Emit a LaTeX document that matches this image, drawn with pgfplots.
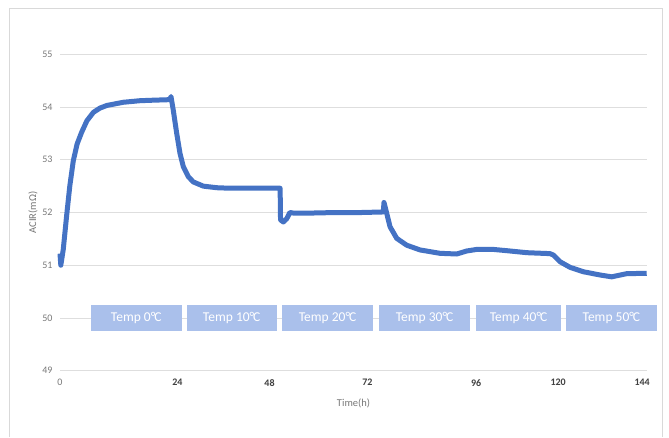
\documentclass[border=0pt]{standalone}
\usepackage{fontspec}
\setmainfont{Carlito}
\usepackage{pgfplots}
\pgfplotsset{compat=1.18}
\definecolor{lineblue}{RGB}{68,114,196}
\definecolor{boxblue}{RGB}{170,192,235}
\definecolor{gridgrey}{RGB}{222,222,222}
\definecolor{tickgrey}{RGB}{120,120,120}
\definecolor{darktick}{RGB}{64,64,64}
\definecolor{framegrey}{RGB}{217,217,217}
\begin{document}
\begin{tikzpicture}[x=1pt,y=1pt]
\useasboundingbox (0,0) rectangle (669,437);
\fill[white] (0,0) rectangle (669,437);
\draw[framegrey,line width=0.8pt] (9,0) -- (9,429) -- (662,429) -- (662,0);
\begin{axis}[
  at={(60pt,66.3pt)}, anchor=south west,
  scale only axis, width=587pt, height=316.4pt,
  xmin=0, xmax=144, ymin=49, ymax=55,
  clip=false,
  axis line style={draw=none},
  major tick length=0pt,
  ytick={49,50,51,52,53,54,55},
  ymajorgrids, grid style={gridgrey, line width=0.8pt},
  xtick={0,28.8,51.4,75.4,102.1,122.2,142.8},
  xticklabels={\textcolor{tickgrey}{0},\textbf{24},\textbf{48},\textbf{72},\textbf{96},\textbf{120},\textbf{144}},
  ticklabel style={font=\fontsize{10}{12}\selectfont},
  /pgf/number format/assume math mode=true,
  yticklabel style={text=tickgrey, xshift=-4pt},
  xticklabel style={text=darktick, yshift=-5pt},
  xlabel={Time(h)}, ylabel={ACIR(mΩ)},
  label style={font=\fontsize{10.5}{12}\selectfont, text=tickgrey},
  xlabel style={yshift=-6pt},
  ylabel style={yshift=-2pt},
]
\addplot[lineblue, line width=5pt, line join=round] coordinates {
(0,51.22)(0.2,51.0)(0.8,51.3)(1.64,51.95)(2.4,52.5)(3.26,52.98)(4.2,53.3)(5.3,53.52)(6.6,53.74)(8.2,53.9)(9.8,53.98)(11.5,54.03)(15.5,54.09)(19.6,54.12)(23,54.13)(27.0,54.14)
(27.23,54.2)(27.79,53.94)(28.63,53.50)(29.44,53.12)(30.25,52.87)(31.47,52.68)(32.7,52.58)(35.15,52.50)(38.44,52.47)(41.71,52.46)(46.6,52.46)(54.0,52.46)
(54.1,51.86)(54.8,51.82)(55.6,51.88)(56.4,52.0)(57.2,51.99)(62,51.99)(68,52.0)(74,52.0)(79.3,52.01)
(79.48,52.19)(80.15,51.985)(80.96,51.73)(82.6,51.51)(85.05,51.38)(88.32,51.29)(93.22,51.226)(97.32,51.213)(99.77,51.27)(102.22,51.30)(106.3,51.30)(110.39,51.27)(114.49,51.238)(120.2,51.22)(121.01,51.194)(122.66,51.067)(125.1,50.961)(128.37,50.877)(132.47,50.815)(135.34,50.78)(139.02,50.84)(143.93,50.847)
};
\fill[boxblue] (axis cs:7.53,49.753) rectangle (axis cs:29.85,50.246);
\fill[boxblue] (axis cs:31.08,49.753) rectangle (axis cs:53.16,50.246);
\fill[boxblue] (axis cs:54.46,49.753) rectangle (axis cs:76.78,50.246);
\fill[boxblue] (axis cs:78.26,49.753) rectangle (axis cs:100.58,50.246);
\fill[boxblue] (axis cs:102.05,49.753) rectangle (axis cs:122.9,50.246);
\fill[boxblue] (axis cs:124.13,49.753) rectangle (axis cs:146.37,50.246);
\begin{scope}[every node/.style={text=white, font=\fontsize{13.5}{14}\selectfont, inner sep=0pt}]
\node at (axis cs:18.69,50.0) {Temp 0°\kern-0.08em C};
\node at (axis cs:42.12,50.0) {Temp 10°\kern-0.08em C};
\node at (axis cs:65.62,50.0) {Temp 20°\kern-0.08em C};
\node at (axis cs:89.42,50.0) {Temp 30°\kern-0.08em C};
\node at (axis cs:112.48,50.0) {Temp 40°\kern-0.08em C};
\node at (axis cs:135.25,50.0) {Temp 50°\kern-0.08em C};
\end{scope}
\end{axis}
\end{tikzpicture}
\end{document}
